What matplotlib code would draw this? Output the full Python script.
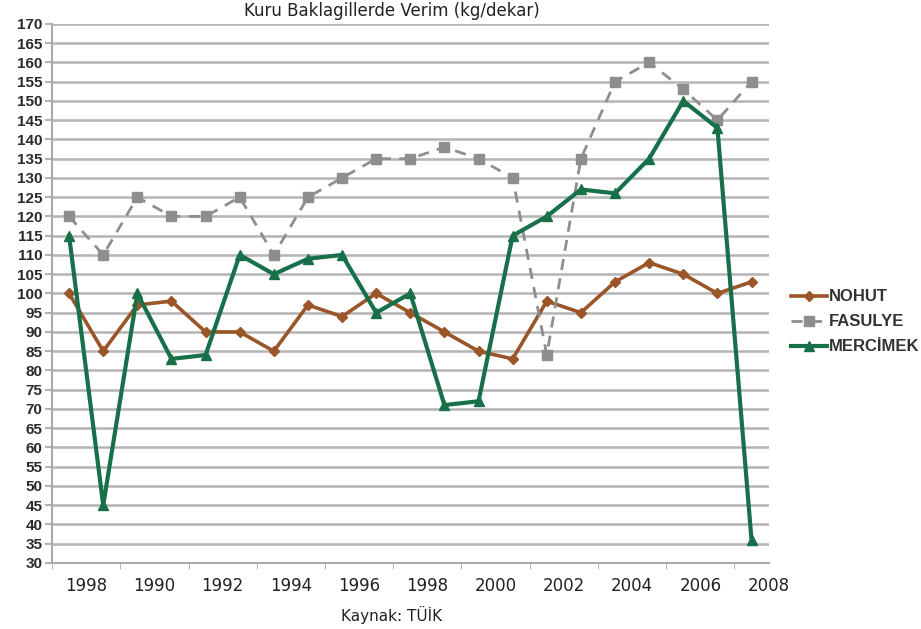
#!/usr/bin/env python3
'''
Kuru baklagillerde verim (kg/dekar) - cizgi grafik
'''
import numpy as np
import matplotlib
matplotlib.use('Agg')
import matplotlib.pyplot as plt

# 21 yil (kategori), etiketler her iki kategoride bir
n_years = 21
x_labels = ['1998', '1990', '1992', '1994', '1996', '1998',
            '2000', '2002', '2004', '2006', '2008']

nohut = [100, 85, 97, 98, 90, 90, 85, 97, 94, 100, 95,
         90, 85, 83, 98, 95, 103, 108, 105, 100, 103]
fasulye = [120, 110, 125, 120, 120, 125, 110, 125, 130, 135, 135,
           138, 135, 130, 84, 135, 155, 160, 153, 145, 155]
mercimek = [115, 45, 100, 83, 84, 110, 105, 109, 110, 95, 100,
            71, 72, 115, 120, 127, 126, 135, 150, 143, 36]

y_ticks = np.arange(30, 171, 5)

narrow = ['Liberation Sans Narrow', 'Liberation Sans', 'DejaVu Sans']

fig = plt.figure(figsize=(9.21, 6.29), dpi=100)
ax = fig.add_axes([0.0565, 0.105, 0.778, 0.857])

x = np.arange(n_years)
ax.plot(x, nohut, '-', color='#9a5528', lw=2.6, marker='D', ms=5,
        label='NOHUT')
ax.plot(x, fasulye, '--', color='#8e8e8e', lw=2.0, marker='s', ms=7,
        dashes=(4, 3), label='FASULYE')
ax.plot(x, mercimek, '-', color='#17704a', lw=3.0, marker='^', ms=7,
        label='MERCİMEK')

ax.set_xlim(-0.5, n_years - 0.5)
ax.set_ylim(30, 170)
ax.set_yticks(y_ticks)
ax.set_yticklabels([str(v) for v in y_ticks], family=narrow,
                   fontweight='bold', fontsize=11, color='#2a2a2a')
ax.yaxis.grid(True, color='#b4b4b4', lw=1.8)
ax.set_axisbelow(True)

# kategori sinirlarindaki kucuk tikler
ax.set_xticks(np.arange(n_years + 1) - 0.5, minor=True)
ax.tick_params(axis='x', which='minor', length=4, color='#aaaaaa')
ax.set_xticks(np.arange(0.5, n_years + 1, 2))
ax.set_xticklabels(x_labels, fontsize=12, color='#222222')
ax.tick_params(axis='x', which='major', length=0, pad=10)
ax.tick_params(axis='y', length=5, width=1.5, color='#b4b4b4', pad=2)

for side in ['top', 'right']:
    ax.spines[side].set_visible(False)
for side in ['left', 'bottom']:
    ax.spines[side].set_color('#aaaaaa')
    ax.spines[side].set_linewidth(1.5)

fig.text(0.425, 0.982, 'Kuru Baklagillerde Verim (kg/dekar)',
         ha='center', va='center', fontsize=12, color='#222222')
fig.text(0.425, 0.022, 'Kaynak: TÜİK', ha='center', va='center',
         fontsize=11, color='#222222')

leg = ax.legend(loc='center left', bbox_to_anchor=(1.01, 0.447),
                frameon=False, handlelength=2.2, handletextpad=0.1,
                labelspacing=0.6, prop={'family': narrow, 'weight': 'bold',
                                        'size': 12})
for t in leg.get_texts():
    t.set_color('#333333')

fig.savefig('out.png', dpi=100)
